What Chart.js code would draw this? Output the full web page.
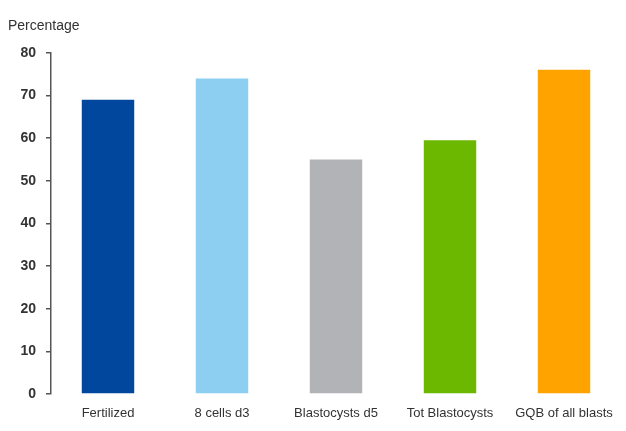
<!DOCTYPE html>
<html>
<head>
<meta charset="utf-8">
<script src="https://cdn.jsdelivr.net/npm/chart.js@4"></script>
<style>
  html, body { margin: 0; padding: 0; background: #fff; }
  #wrap { width: 626px; height: 431px; }
</style>
</head>
<body>
<div id="wrap"><canvas id="chart"></canvas></div>
<script>
const categories = ['Fertilized', '8 cells d3', 'Blastocysts d5', 'Tot Blastocysts', 'GQB of all blasts'];
const percentages = [69, 74, 55, 59.5, 76];
const barColors = ['#00479d', '#8ccff0', '#b1b3b6', '#6cb800', '#ffa300'];
const yTicks = [0, 10, 20, 30, 40, 50, 60, 70, 80];

const font = '"Liberation Sans", Arial, sans-serif';

new Chart(document.getElementById('chart'), {
    type: 'bar',
    data: {
        labels: categories,
        datasets: [{
            data: percentages,
            backgroundColor: barColors,
            borderWidth: 0,
            barPercentage: 0.46,
            categoryPercentage: 1
        }]
    },
    options: {
        responsive: true,
        maintainAspectRatio: false,
        animation: false,
        layout: { padding: { left: 8, right: 5, top: 0, bottom: 0 } },
        plugins: {
            legend: { display: false },
            tooltip: { enabled: false },
            title: {
                display: true,
                text: 'Percentage',
                align: 'start',
                color: '#333',
                font: { family: font, size: 14, weight: 'normal' },
                padding: { top: 18, bottom: 18 }
            }
        },
        scales: {
            x: {
                afterFit: s => { s.height = 37; },
                grid: { display: false, drawTicks: false },
                border: { display: false },
                ticks: {
                    color: '#333',
                    font: { family: font, size: 13 },
                    padding: 12,
                    maxRotation: 0
                }
            },
            y: {
                min: 0,
                max: 80,
                afterBuildTicks: s => { s.ticks = yTicks.map(v => ({ value: v })); },
                afterFit: s => { s.width = 43; },
                grid: {
                    drawOnChartArea: false,
                    drawTicks: true,
                    tickLength: 5,
                    color: '#555',
                    lineWidth: 1.5
                },
                border: { display: true, color: '#555', width: 1.5 },
                ticks: {
                    color: '#333',
                    font: { family: font, size: 14, weight: 'bold' },
                    padding: 10
                }
            }
        }
    }
});
</script>
</body>
</html>
